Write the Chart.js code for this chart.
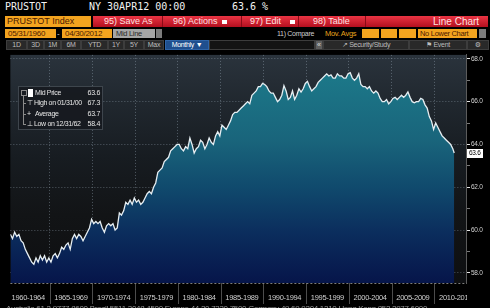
<!DOCTYPE html>
<html><head><meta charset="utf-8">
<script src="https://cdn.jsdelivr.net/npm/chart.js@4.4.1/dist/chart.umd.min.js"></script>
<style>
html,body{margin:0;padding:0;background:#000;width:490px;height:308px;overflow:hidden;}
body{position:relative;font-family:"Liberation Sans","DejaVu Sans",sans-serif;}
.a{position:absolute;white-space:nowrap;}
.r1{top:1px;font:10px "DejaVu Sans Mono",monospace;color:#f2f2f2;line-height:12px;}
.ob{background:#f3a41f;color:#4d1a00;}
.rb{top:16px;height:11px;line-height:11px;font-size:9px;color:#ffe2e2;}
.sep{top:16px;width:1px;height:11px;background:#8a0a16;}
.r3{top:29px;height:9px;line-height:9px;font-size:8px;}
.nar{font-family:"Liberation Sans",sans-serif;letter-spacing:-0.3px;}
.bt{top:40px;height:8px;line-height:8px;background:#292929;border:1px solid #3d3d3d;color:#bcbcbc;font-size:7px;text-align:center;}
.lg{font-size:7px;line-height:10px;height:10px;color:#e6e6e6;letter-spacing:-0.35px;}
.lv{font-size:7px;line-height:10px;height:10px;color:#e6e6e6;text-align:right;width:20px;letter-spacing:-0.3px;}
</style></head><body>
<!-- row 1 -->
<div class="a r1" style="left:5px;">PRUSTOT</div>
<div class="a r1" style="left:89px;">NY 30APR12 00:00</div>
<div class="a r1" style="left:232px;">63.6 %</div>
<!-- row 2 -->
<div class="a ob" style="left:5px;top:16px;width:86px;height:11px;line-height:11px;font-size:9px;padding-left:2px;box-sizing:border-box;">PRUSTOT Index</div>
<div class="a" style="left:93px;top:16px;width:395px;height:11px;background:linear-gradient(#ea3443,#b30f1f);"></div>
<div class="a rb" style="left:104px;">95) Save As</div>
<div class="a sep" style="left:162px;"></div>
<div class="a rb" style="left:173px;">96) Actions</div>
<div class="a" style="left:222px;top:20px;width:5px;height:4px;background:#fff;"></div>
<div class="a sep" style="left:241px;"></div>
<div class="a rb" style="left:250px;">97) Edit</div>
<div class="a" style="left:290px;top:20px;width:5px;height:4px;background:#fff;"></div>
<div class="a sep" style="left:298px;"></div>
<div class="a rb" style="left:313px;">98) Table</div>
<div class="a sep" style="left:365px;"></div>
<div class="a rb" style="left:433px;font-size:10px;">Line Chart</div>
<!-- row 3 -->
<div class="a ob r3 nar" style="left:5px;width:51px;padding-left:3px;box-sizing:border-box;">05/31/1960</div>
<div class="a r3" style="left:57px;color:#ddd;">-</div>
<div class="a ob r3 nar" style="left:62px;width:50px;padding-left:3px;box-sizing:border-box;">04/30/2012</div>
<div class="a r3 nar" style="left:113px;width:42px;background:#a6a6a6;color:#2a2a2a;padding-left:3px;box-sizing:border-box;font-size:7.5px;">Mid Line</div>
<div class="a r3" style="left:156px;width:6px;background:#7c7c7c;"></div>
<div class="a r3 nar" style="left:277px;color:#cfcfcf;font-size:7px;">11) Compare</div>
<div class="a r3 nar" style="left:325px;color:#e9a41c;font-size:7.5px;">Mov. Avgs</div>
<div class="a ob r3" style="left:362px;width:17px;"></div>
<div class="a ob r3" style="left:381px;width:16px;"></div>
<div class="a ob r3" style="left:399px;width:17px;"></div>
<div class="a ob r3 nar" style="left:418px;width:59px;padding-left:2px;box-sizing:border-box;font-size:7.5px;">No Lower Chart</div>
<div class="a r3" style="left:479px;width:7px;background:#7c7c7c;"></div>
<!-- row 4 -->
<div class="a bt nar" style="left:6px;width:19px;">1D</div>
<div class="a bt nar" style="left:27px;width:15px;">3D</div>
<div class="a bt nar" style="left:44px;width:15px;">1M</div>
<div class="a bt nar" style="left:61px;width:18px;">6M</div>
<div class="a bt nar" style="left:81px;width:25px;">YTD</div>
<div class="a bt nar" style="left:108px;width:14px;">1Y</div>
<div class="a bt nar" style="left:124px;width:18px;">5Y</div>
<div class="a bt nar" style="left:144px;width:18px;">Max</div>
<div class="a bt nar" style="left:165px;width:42px;background:#1f4f8e;border-color:#2f65a8;color:#fff;">Monthly ▼</div>
<div class="a bt" style="left:209px;width:104px;background:#141414;"></div>
<div class="a bt" style="left:315px;width:6px;background:#5e5e5e;color:#ddd;">«</div>
<div class="a bt nar" style="left:323px;width:84px;">↗ Security/Study</div>
<div class="a bt nar" style="left:409px;width:56px;">⚑ Event</div>
<div class="a bt" style="left:467px;width:20px;">⚙</div>

<canvas id="c" class="a" width="490" height="258" style="left:0;top:50px;"></canvas>

<!-- legend box -->
<div class="a" style="left:18px;top:86px;width:85px;height:44px;background:rgba(22,26,31,0.9);border:1px solid rgba(95,105,115,0.55);box-sizing:border-box;"></div>
<div class="a" style="left:21px;top:90px;width:4px;height:4px;border:1px solid #8a8a8a;"></div>
<div class="a" style="left:23px;top:96px;width:1px;height:28px;background:#8a8a8a;"></div>
<div class="a" style="left:23px;top:103px;width:3px;height:1px;background:#8a8a8a;"></div>
<div class="a" style="left:23px;top:114px;width:3px;height:1px;background:#8a8a8a;"></div>
<div class="a" style="left:23px;top:124px;width:3px;height:1px;background:#8a8a8a;"></div>
<div class="a" style="left:28px;top:89px;width:5px;height:8px;background:#fff;"></div>
<div class="a lg" style="left:35px;top:88px;">Mid Price</div>
<div class="a lv" style="left:80px;top:88px;">63.6</div>
<div class="a lg" style="left:27px;top:98px;">⊤</div>
<div class="a lg" style="left:34px;top:98px;">High on 01/31/00</div>
<div class="a lv" style="left:80px;top:98px;">67.3</div>
<div class="a lg" style="left:27px;top:109px;">+</div>
<div class="a lg" style="left:35px;top:109px;">Average</div>
<div class="a lv" style="left:80px;top:109px;">63.7</div>
<div class="a lg" style="left:27px;top:119px;">⊥</div>
<div class="a lg" style="left:34px;top:119px;">Low on 12/31/62</div>
<div class="a lv" style="left:80px;top:119px;">58.4</div>

<div class="a nar" style="left:6px;top:304px;font-size:8px;color:#9a9a9a;">Australia 61 2 9777 8600 Brazil 5511 3048 4500 Europe 44 20 7330 7500 Germany 49 69 9204 1210 Hong Kong 852 2977 6000</div>

<script>
const months = [
'1960-05','1960-08','1960-11',
'1961-02','1961-05','1961-08','1961-11','1962-02','1962-05','1962-08','1962-11',
'1963-02','1963-05','1963-08','1963-11','1964-02','1964-05','1964-08','1964-11',
'1965-02','1965-05','1965-08','1965-11','1966-02','1966-05','1966-08','1966-11',
'1967-02','1967-05','1967-08','1967-11','1968-02','1968-05','1968-08','1968-11',
'1969-02','1969-05','1969-08','1969-11','1970-02','1970-05','1970-08','1970-11',
'1971-02','1971-05','1971-08','1971-11','1972-02','1972-05','1972-08','1972-11',
'1973-02','1973-05','1973-08','1973-11','1974-02','1974-05','1974-08','1974-11',
'1975-02','1975-05','1975-08','1975-11','1976-02','1976-05','1976-08','1976-11',
'1977-02','1977-05','1977-08','1977-11','1978-02','1978-05','1978-08','1978-11',
'1979-02','1979-05','1979-08','1979-11','1980-02','1980-05','1980-08','1980-11',
'1981-02','1981-05','1981-08','1981-11','1982-02','1982-05','1982-08','1982-11',
'1983-02','1983-05','1983-08','1983-11','1984-02','1984-05','1984-08','1984-11',
'1985-02','1985-05','1985-08','1985-11','1986-02','1986-05','1986-08','1986-11',
'1987-02','1987-05','1987-08','1987-11','1988-02','1988-05','1988-08','1988-11',
'1989-02','1989-05','1989-08','1989-11','1990-02','1990-05','1990-08','1990-11',
'1991-02','1991-05','1991-08','1991-11','1992-02','1992-05','1992-08','1992-11',
'1993-02','1993-05','1993-08','1993-11','1994-02','1994-05','1994-08','1994-11',
'1995-02','1995-05','1995-08','1995-11','1996-02','1996-05','1996-08','1996-11',
'1997-02','1997-05','1997-08','1997-11','1998-02','1998-05','1998-08','1998-11',
'1999-02','1999-05','1999-08','1999-11','2000-02','2000-05','2000-08','2000-11',
'2001-02','2001-05','2001-08','2001-11','2002-02','2002-05','2002-08','2002-11',
'2003-02','2003-05','2003-08','2003-11','2004-02','2004-05','2004-08','2004-11',
'2005-02','2005-05','2005-08','2005-11','2006-02','2006-05','2006-08','2006-11',
'2007-02','2007-05','2007-08','2007-11','2008-02','2008-05','2008-08','2008-11',
'2009-02','2009-05','2009-08','2009-11','2010-02','2010-05','2010-08','2010-11',
'2011-02','2011-05','2011-08','2011-11','2012-02','2012-04'
];
const midPrice = [
59.8,59.6,59.9,
59.7,59.8,59.5,59.4, 59.1,58.9,58.7,58.5,
58.4,58.7,58.5,58.8, 58.6,58.8,58.5,58.7,
58.5,58.8,58.9,58.7, 58.9,59.2,59.1,59.3,
59.4,59.1,59.6,59.8, 59.6,59.8,59.7,59.5,
59.7,59.9,60.1,60.5, 60.3,60.4,60.3,60.4,
60.1,59.9,60.2,60.3, 60.2,60.3,60.0,60.1,
60.8,60.7,60.9,61.3, 61.2,61.4,61.2,61.5,
61.3,61.4,61.2,61.3, 61.5,61.7,61.8,61.7,
62.0,62.2,62.7,62.8, 62.9,63.2,63.3,63.4,
63.7,63.8,63.9,64.0, 64.0,63.8,63.7,63.9,
63.8,64.3,64.0,63.6, 63.8,63.9,64.2,64.1,
63.8,64.0,64.3,64.1, 64.0,64.4,64.6,64.4,
64.9,64.8,64.7,64.9, 65.1,65.4,65.5,65.5,
65.6,65.7,65.8,65.9, 66.0,65.9,66.3,66.4,
66.5,66.7,66.7,66.85, 66.8,66.7,66.5,66.4,
66.4,66.2,66.0,66.1, 66.3,66.75,66.5,66.1,
66.2,66.5,66.1,66.3, 66.6,66.45,66.6,66.85,
66.95,66.7,66.5,66.6, 66.7,66.9,67.0,67.1,
67.2,67.3,67.2,67.25, 67.1,67.1,67.3,67.2,
67.2,67.1,67.1,67.3, 67.35,67.1,67.0,67.1,
67.3,66.8,66.7,66.7, 66.6,66.7,66.5,66.4,
66.5,66.4,66.15,66.0, 66.0,66.1,65.9,66.0,
66.15,66.2,66.1,66.2, 66.3,66.2,66.3,66.45,
66.2,66.0,65.95,66.0, 66.0,66.15,66.1,65.85,
65.7,65.3,65.1,64.7, 65.0,64.8,64.6,64.4,
64.3,64.2,64.1,64.0, 63.8,63.6
];
const periodStarts = [1960,1965,1970,1975,1980,1985,1990,1995,2000,2005,2010];
const periodLabels = ['1960-1964','1965-1969','1970-1974','1975-1979','1980-1984','1985-1989','1990-1994','1995-1999','2000-2004','2005-2009','2010-2014'];
const yTickValues = [58,59,60,61,62,63,64,65,66,67,68];

const axisFont = '"Liberation Sans",sans-serif';
const toYear = s => { const p = s.split('-').map(Number); return p[0] + p[1] / 12; };
const points = months.map((m, i) => ({ x: toYear(m), y: midPrice[i] }));

const gridDots = 'rgba(165,180,195,0.42)';

const decor = {
  id: 'decor',
  beforeDraw(chart) {
    const { ctx, chartArea: a } = chart;
    ctx.letterSpacing = '-0.3px';
    const g = ctx.createLinearGradient(0, a.top, 0, a.bottom);
    g.addColorStop(0, '#2a333c');
    g.addColorStop(0.22, '#20272e');
    g.addColorStop(0.45, '#171c21');
    g.addColorStop(0.7, '#121416');
    g.addColorStop(1, '#0e0f11');
    ctx.save();
    ctx.fillStyle = g;
    ctx.fillRect(a.left, a.top, a.right - a.left, a.bottom - a.top);
    ctx.restore();
  },
  afterDraw(chart) {
    const { ctx, chartArea: a, scales: { x, y } } = chart;
    ctx.save();
    ctx.fillStyle = '#000';
    ctx.fillRect(a.right + 1, a.bottom + 2, chart.width - a.right, chart.height - a.bottom);
    ctx.strokeStyle = '#4c4c4c';
    ctx.lineWidth = 1;
    periodStarts.forEach(v => {
      if (v <= x.min) return;
      const px = Math.round(x.getPixelForValue(v)) + 0.5;
      ctx.beginPath(); ctx.moveTo(px, a.bottom); ctx.lineTo(px, a.bottom + 21); ctx.stroke();
    });
    ctx.setLineDash([2, 2]);
    ctx.strokeStyle = '#7c7c7c';
    ctx.beginPath(); ctx.moveTo(a.left, a.bottom + 0.5); ctx.lineTo(a.right, a.bottom + 0.5); ctx.stroke();
    ctx.setLineDash([]);
    const last = midPrice[midPrice.length - 1];
    const py = Math.round(y.getPixelForValue(last));
    ctx.fillStyle = '#fff';
    ctx.fillRect(a.right + 1, py - 4, 16, 9);
    ctx.fillStyle = '#000';
    ctx.font = '6.5px ' + axisFont;
    ctx.textBaseline = 'middle';
    ctx.fillText(last.toFixed(1), a.right + 3, py + 0.5);
    ctx.restore();
  }
};

new Chart(document.getElementById('c'), {
  type: 'line',
  data: {
    datasets: [{
      label: 'Mid Price',
      data: points,
      borderColor: '#e6eef2',
      borderWidth: 1.3,
      pointRadius: 0,
      tension: 0,
      fill: 'start',
      backgroundColor: (c) => {
        const area = c.chart.chartArea;
        if (!area) return '#0f4a6e';
        const g = c.chart.ctx.createLinearGradient(0, area.top, 0, area.bottom);
        g.addColorStop(0, '#1d7e8d');
        g.addColorStop(0.38, '#19647b');
        g.addColorStop(0.58, '#104a6d');
        g.addColorStop(0.78, '#0b2d5d');
        g.addColorStop(1, '#06154a');
        return g;
      }
    }]
  },
  options: {
    responsive: false,
    animation: false,
    layout: { padding: { left: 6, top: 1, right: 0, bottom: 0 } },
    plugins: { legend: { display: false }, tooltip: { enabled: false } },
    scales: {
      x: {
        type: 'linear',
        z: 1,
        min: toYear(months[0]),
        max: 2013.71,
        afterBuildTicks: (s) => {
          const vals = [];
          periodStarts.forEach(v => { if (v > s.min) vals.push(v); vals.push(v + 2.5); });
          s.ticks = vals.sort((p, q) => p - q).map(v => ({ value: v }));
        },
        afterFit: (s) => { s.height = 25; },
        ticks: {
          autoSkip: false, maxRotation: 0, minRotation: 0, padding: 10,
          color: '#d0d0d0', font: { family: axisFont, size: 7.5 },
          callback: (v) => { const i = periodStarts.indexOf(v - 2.5); return i >= 0 ? periodLabels[i] : ''; }
        },
        grid: {
          drawTicks: false,
          color: (c) => (c.tick && periodStarts.includes(c.tick.value)) ? gridDots : 'rgba(0,0,0,0)'
        },
        border: { display: false, dash: [1, 2] }
      },
      y: {
        position: 'right',
        z: 1,
        min: 57.527,
        max: 68.184,
        afterBuildTicks: (s) => { s.ticks = yTickValues.map(v => ({ value: v })); },
        afterFit: (s) => { s.width = 24; },
        ticks: {
          padding: 1, color: '#d0d0d0', font: { family: axisFont, size: 6.5 },
          callback: (v) => (v % 2 === 0 ? v.toFixed(1) : '')
        },
        grid: {
          tickLength: 4,
          color: (c) => (c.tick && c.tick.value % 2 === 0) ? gridDots : 'rgba(0,0,0,0)',
          tickColor: (c) => (c.tick && c.tick.value % 2 === 0) ? '#e8e8e8' : '#7a7a7a'
        },
        border: { display: true, color: '#5c5c5c', width: 1, dash: [1, 2] }
      }
    }
  },
  plugins: [decor]
});
</script>
</body></html>
